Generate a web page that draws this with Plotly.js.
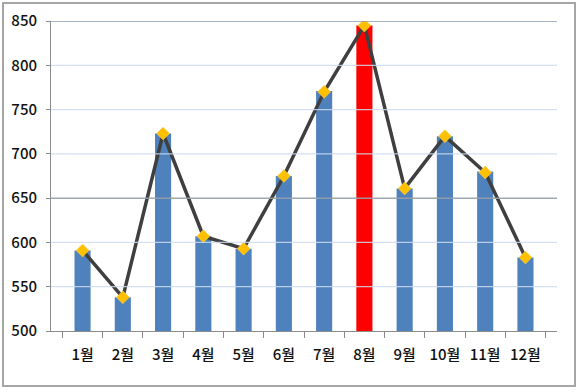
<!DOCTYPE html>
<html>
<head>
<meta charset="utf-8">
<script src="https://cdn.plot.ly/plotly-3.0.1.min.js"></script>
<style>
html,body{margin:0;padding:0;background:#fff;}
#wrap{position:relative;width:577px;height:392px;}
#chart{width:577px;height:392px;}
#frame{position:absolute;left:2px;top:2px;width:570px;height:381px;border:2px solid #a6a6a6;pointer-events:none;}
</style>
</head>
<body>
<div id="wrap"><div id="chart"></div><div id="frame"></div></div>
<script>
const months = ['1월','2월','3월','4월','5월','6월','7월','8월','9월','10월','11월','12월'];
const barValues = [591, 538, 723, 607, 593, 675, 771, 845, 661, 720, 680, 583];
const lineValues = [591, 538, 723, 607, 593, 675, 770, 845, 661, 720, 679, 583];
const yTicks = [500, 550, 600, 650, 700, 750, 800, 850];

const maxVal = Math.max(...barValues);
const barColors = barValues.map(v => v === maxVal ? '#ff0000' : '#4f81bd');

const gridShapes = yTicks.slice(1).map(v => ({
  type: 'line', xref: 'paper', x0: 0, x1: 1, yref: 'y', y0: v, y1: v,
  line: {color: (v === 850 ? 'rgba(132,151,176,0.95)' : (v === 650 ? 'rgba(150,158,170,0.9)' : 'rgba(205,218,238,0.85)')), width: (v === 850 || v === 650) ? 1.5 : 1.2},
  layer: 'above'
}));

const traces = [
  {type: 'bar', x: months, y: barValues, marker: {color: barColors, line: {width: 0}}, hoverinfo: 'skip'},
  {type: 'scatter', mode: 'lines+markers', x: months, y: lineValues,
   line: {color: '#3f3f3f', width: 3.5},
   marker: {symbol: 'diamond', size: 10, color: '#ffc000', line: {color: '#f5d36a', width: 0.5}},
   hoverinfo: 'skip'}
];

const layout = {
  width: 577, height: 392,
  margin: {l: 51, r: 20, t: 21, b: 61},
  paper_bgcolor: '#ffffff', plot_bgcolor: '#ffffff',
  showlegend: false,
  bargap: 0.6,
  font: {family: '"Noto Sans CJK KR", "Noto Sans", sans-serif', size: 15, color: '#111111'},
  xaxis: {
    type: 'category', showgrid: false, showline: true, linecolor: '#8c8c8c', linewidth: 1,
    ticks: 'outside', tickson: 'boundaries', ticklen: 6, tickcolor: '#8c8c8c',
    ticklabelstandoff: 10,
    tickfont: {size: 15, color: '#111111', weight: 500}, fixedrange: true
  },
  yaxis: {
    range: [500, 850], tickvals: yTicks, showgrid: false, zeroline: false,
    showline: true, linecolor: '#8c8c8c', linewidth: 1,
    ticks: 'outside', ticklen: 4, tickcolor: '#8c8c8c',
    ticklabelstandoff: 6,
    tickfont: {size: 15, color: '#111111', weight: 500}, fixedrange: true
  },
  shapes: gridShapes
};

Plotly.newPlot('chart', traces, layout, {displayModeBar: false, staticPlot: true});
</script>
</body>
</html>
